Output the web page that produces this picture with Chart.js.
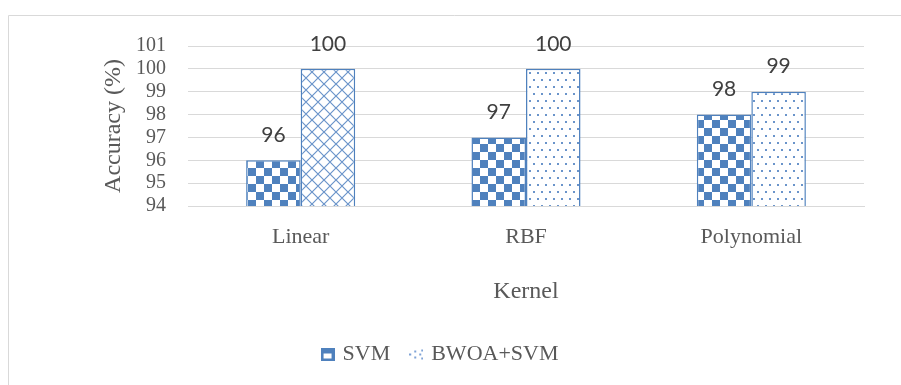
<!DOCTYPE html>
<html>
<head>
<meta charset="utf-8">
<script src="https://cdn.jsdelivr.net/npm/chart.js@4"></script>
<style>
    body { margin: 0; background: #ffffff; }
    #chartBox { width: 901px; height: 385px; }
</style>
</head>
<body>
<div id="chartBox"><canvas id="kernelChart"></canvas></div>
<script>
// Chart values
const kernels = ["Linear", "RBF", "Polynomial"];
const svmAccuracy = [96, 97, 98];
const bwoaAccuracy = [100, 100, 99];
const seriesNames = ["SVM", "BWOA+SVM"];
const yMin = 94;
const yMax = 101;

const BLUE = "#4f81bd";
const SERIF = "'Liberation Serif', 'Times New Roman', serif";


//====================== PATTERNS ========================

function MakeTile(w, h, draw) {
    const c = document.createElement("canvas");
    c.width = w;
    c.height = h;
    const g = c.getContext("2d");
    draw(g);
    return c;
}

const patCtx = document.createElement("canvas").getContext("2d");

// Checkerboard used by the SVM bars
const checkerTile = MakeTile(16, 16, g => {
    g.fillStyle = "#ffffff";
    g.fillRect(0, 0, 16, 16);
    g.fillStyle = BLUE;
    g.fillRect(0, 0, 8, 8);
    g.fillRect(8, 8, 8, 8);
});

// Diamond cross hatch (Linear BWOA+SVM bar)
const crossTile = MakeTile(12, 12, g => {
    g.fillStyle = "#ffffff";
    g.fillRect(0, 0, 12, 12);
    g.strokeStyle = "#6a94ca";
    g.lineWidth = 1.2;
    g.beginPath();
    g.moveTo(0, 0); g.lineTo(12, 12);
    g.moveTo(12, 0); g.lineTo(0, 12);
    g.stroke();
});

// Small dots (other BWOA+SVM bars)
const dotTile = MakeTile(8, 14, g => {
    g.fillStyle = "#ffffff";
    g.fillRect(0, 0, 8, 14);
    g.fillStyle = "#6a94ca";
    g.fillRect(1, 2, 2, 2);
    g.fillRect(5, 9, 2, 2);
});

const checkerPat = patCtx.createPattern(checkerTile, "repeat");
const crossPat = patCtx.createPattern(crossTile, "repeat");
const dotPat = patCtx.createPattern(dotTile, "repeat");

// Legend icons
const svmIcon = MakeTile(14, 13, g => {
    g.fillStyle = BLUE;
    g.fillRect(0, 0, 14, 13);
    g.fillStyle = "#ffffff";
    g.fillRect(3, 6, 8, 5);
});
const bwoaIcon = MakeTile(14, 13, g => {
    g.fillStyle = "#7fa3d6";
    g.fillRect(0, 6, 2, 2);
    g.fillRect(5, 3, 2, 2);
    g.fillRect(5, 9, 2, 2);
    g.fillRect(10, 6, 2, 2);
    g.fillRect(12, 2, 2, 2);
    g.fillRect(12, 10, 2, 2);
});


//====================== PLUGINS ========================

// Light grey frame (left and top edges visible)
const framePlugin = {
    id: "frame",
    beforeDraw(chart) {
        const ctx = chart.ctx;
        ctx.save();
        ctx.strokeStyle = "#d9d9d9";
        ctx.lineWidth = 1;
        ctx.beginPath();
        ctx.moveTo(8.5, chart.height);
        ctx.lineTo(8.5, 15.5);
        ctx.lineTo(chart.width, 15.5);
        ctx.stroke();
        ctx.restore();
    }
};

// Value labels above each bar
const valueLabels = {
    id: "valueLabels",
    afterDatasetsDraw(chart) {
        const ctx = chart.ctx;
        ctx.save();
        ctx.font = "21px Lato, 'Open Sans', sans-serif";
        ctx.fillStyle = "#404040";
        ctx.textAlign = "center";
        ctx.textBaseline = "middle";
        chart.data.datasets.forEach((ds, i) => {
            chart.getDatasetMeta(i).data.forEach((bar, j) => {
                ctx.fillText(ds.data[j], bar.x, bar.y - 25);
            });
        });
        ctx.restore();
    }
};


//====================== CHART ========================

const ctx = document.getElementById("kernelChart").getContext("2d");

new Chart(ctx, {
    type: "bar",
    data: {
        labels: kernels,
        datasets: [
            {
                label: seriesNames[0],
                data: svmAccuracy,
                backgroundColor: checkerPat,
                borderColor: BLUE,
                borderWidth: 1.5
            },
            {
                label: seriesNames[1],
                data: bwoaAccuracy,
                backgroundColor: [crossPat, dotPat, dotPat],
                borderColor: BLUE,
                borderWidth: 1.5
            }
        ]
    },
    options: {
        responsive: true,
        maintainAspectRatio: false,
        animation: false,
        categoryPercentage: 0.484,
        barPercentage: 1,
        layout: {
            padding: { left: 18, right: 37, top: 46, bottom: 10 }
        },
        scales: {
            x: {
                grid: { display: false },
                border: { display: true, color: "#d9d9d9" },
                ticks: {
                    color: "#595959",
                    padding: 10,
                    font: { family: SERIF, size: 22 }
                },
                title: {
                    display: true,
                    text: "Kernel",
                    color: "#595959",
                    padding: { top: 0, bottom: 14.6 },
                    font: { family: SERIF, size: 24, lineHeight: 1.2 }
                },
                afterFit(scale) { scale.height = 115; }
            },
            y: {
                min: yMin,
                max: yMax,
                grid: { color: "#d9d9d9", drawTicks: false },
                border: { display: false },
                ticks: {
                    stepSize: 1,
                    autoSkip: false,
                    color: "#595959",
                    padding: 22,
                    font: { family: SERIF, size: 20 }
                },
                title: {
                    display: true,
                    text: "Accuracy (%)",
                    color: "#595959",
                    padding: { top: 81.6, bottom: 0 },
                    font: { family: SERIF, size: 24, lineHeight: 1.2 }
                },
                afterFit(scale) { scale.width = 170; }
            }
        },
        plugins: {
            legend: {
                position: "bottom",
                labels: {
                    usePointStyle: true,
                    pointStyleWidth: 8,
                    boxHeight: 14,
                    padding: 22,
                    color: "#595959",
                    font: { family: SERIF, size: 22 },
                    generateLabels: (chart) => {
                        const icons = [svmIcon, bwoaIcon];
                        return Chart.defaults.plugins.legend.labels.generateLabels(chart)
                            .map((item, i) => {
                                item.pointStyle = icons[i];
                                return item;
                            });
                    }
                }
            },
            tooltip: { enabled: false }
        }
    },
    plugins: [framePlugin, valueLabels]
});
</script>
</body>
</html>
